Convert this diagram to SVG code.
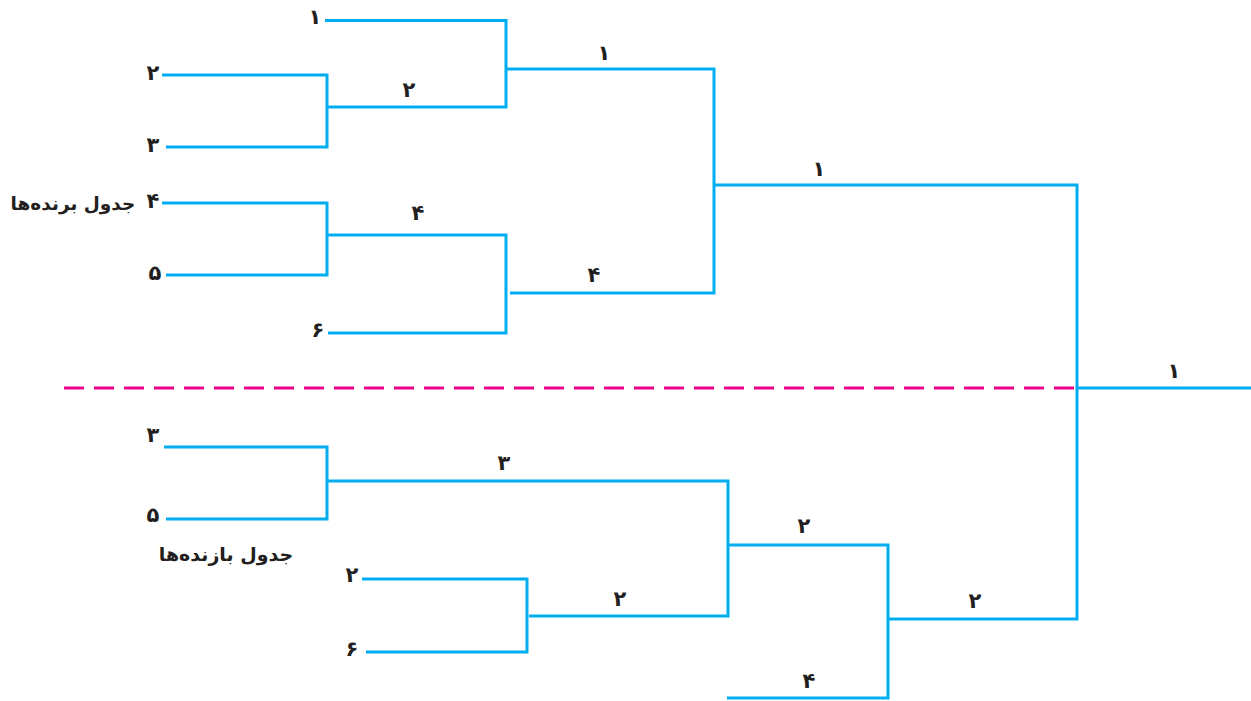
<svg xmlns="http://www.w3.org/2000/svg" width="1251" height="701" viewBox="0 0 1251 701">
<style>
.c{fill:none;stroke:#00aeef;stroke-width:3;stroke-linejoin:miter;stroke-linecap:butt}
.d{fill:none;stroke:#ec008c;stroke-width:3;stroke-dasharray:20 10}
.n{font-family:"DejaVu Sans",sans-serif;font-weight:bold;font-size:21px;fill:#231f20;text-anchor:middle}
.t{font-family:"DejaVu Sans",sans-serif;font-weight:bold;font-size:19px;fill:#231f20;text-anchor:middle}
</style>
<rect width="1251" height="701" fill="#ffffff"/>
<g id="connectors">
<path class="d" d="M64,388 H1077"/>
<path class="c" d="M325,20.5 H506 V107 H327"/>
<path class="c" d="M162,75 H327 V147 H166"/>
<path class="c" d="M506,69 H714 V293 H510"/>
<path class="c" d="M162,203 H327 V275 H166"/>
<path class="c" d="M327,235 H506 V333 H328"/>
<path class="c" d="M714,185 H1077 V619 H888"/>
<path class="c" d="M1077,388 H1251"/>
<path class="c" d="M164,447 H327 V519 H166"/>
<path class="c" d="M327,481 H728 V616 H529"/>
<path class="c" d="M362,579 H527 V652 H366"/>
<path class="c" d="M728,545 H888 V698 H727"/>
</g>
<g id="title-winners"><text class="t" x="73" y="210" style="font-size:18.5px">جدول برنده‌ها</text></g>
<g id="title-losers"><text class="t" x="226" y="561">جدول بازنده‌ها</text></g>
<g id="w1"><text class="n" x="315" y="24">۱</text></g>
<g id="w2"><text class="n" x="153" y="80">۲</text></g>
<g id="w3"><text class="n" x="153" y="152">۳</text></g>
<g id="w4"><text class="n" x="153" y="208">۴</text></g>
<g id="w5"><text class="n" x="155" y="280">۵</text></g>
<g id="w6"><text class="n" x="318" y="337">۶</text></g>
<g id="w23"><text class="n" x="409" y="97">۲</text></g>
<g id="w45"><text class="n" x="418" y="220">۴</text></g>
<g id="w12"><text class="n" x="604" y="60">۱</text></g>
<g id="w46"><text class="n" x="594" y="282">۴</text></g>
<g id="w14"><text class="n" x="819" y="176">۱</text></g>
<g id="final"><text class="n" x="1174" y="378">۱</text></g>
<g id="l3"><text class="n" x="153" y="442">۳</text></g>
<g id="l5"><text class="n" x="153" y="522">۵</text></g>
<g id="l2"><text class="n" x="352" y="582">۲</text></g>
<g id="l6"><text class="n" x="352" y="656">۶</text></g>
<g id="l35"><text class="n" x="504" y="470">۳</text></g>
<g id="l26"><text class="n" x="620" y="606">۲</text></g>
<g id="l32"><text class="n" x="804" y="533">۲</text></g>
<g id="l4"><text class="n" x="809" y="688">۴</text></g>
<g id="l24"><text class="n" x="975" y="608">۲</text></g>
</svg>
